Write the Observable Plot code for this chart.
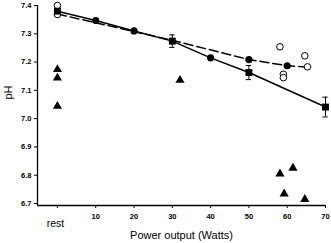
<!DOCTYPE html>
<html>
<head>
<meta charset="utf-8">
<script src="https://cdn.jsdelivr.net/npm/d3@7"></script>
<script src="https://cdn.jsdelivr.net/npm/@observablehq/plot@0.6"></script>
<style>
  html, body { margin: 0; padding: 0; background: #fff; }
  svg { font-family: "Liberation Sans", Arial, sans-serif; }
</style>
</head>
<body>
<div id="chart"></div>
<script>
// Data (x = power in Watts, "rest" = 0)
const xTicks = [0, 10, 20, 30, 40, 50, 60, 70];
const yTicks = [6.7, 6.8, 6.9, 7.0, 7.1, 7.2, 7.3, 7.4];

// solid line (connects filled circles / squares)
const solidX = [0, 10, 20, 30, 40, 50, 70];
const solidY = [7.38, 7.347, 7.31, 7.274, 7.215, 7.163, 7.041];

// dashed line
const dashX = [0, 30, 50, 60, 65.3];
const dashY = [7.37, 7.277, 7.209, 7.187, 7.183];

// filled circles
const circX = [10, 20, 40, 50, 60];
const circY = [7.347, 7.31, 7.215, 7.209, 7.187];

// filled squares with error bars
const sqX = [0, 30, 50, 70];
const sqY = [7.38, 7.274, 7.163, 7.041];
const sqErr = [0, 0.022, 0.025, 0.035];

// open circles
const openX = [0, 0, 58.1, 64.6, 65.3, 59, 59];
const openY = [7.40, 7.368, 7.254, 7.222, 7.183, 7.157, 7.145];

// filled triangles
const triX = [0, 0, 0, 32, 58.1, 61.5, 59.2, 64.6];
const triY = [7.174, 7.144, 7.044, 7.136, 6.805, 6.825, 6.734, 6.715];

const zip = (xs, ys) => xs.map((x, i) => ({x, y: ys[i]}));
const solid = zip(solidX, solidY);
const dashed = zip(dashX, dashY);
const circles = zip(circX, circY);
const squares = sqX.map((x, i) => ({x, y: sqY[i], e: sqErr[i]}));
const errs = squares.filter(d => d.e > 0);
const opens = zip(openX, openY);
const tris = zip(triX, triY);

const xMin = -5.2, yMin = 6.693;

const chart = Plot.plot({
  width: 331,
  height: 243,
  marginLeft: 37,
  marginRight: 6,
  marginTop: 5,
  marginBottom: 38,
  x: {domain: [xMin, 70]},
  y: {domain: [yMin, 7.4]},
  style: {fontFamily: "Liberation Sans, Arial, sans-serif", color: "#000", background: "#fff"},
  marks: [
    // axis lines
    Plot.ruleX([xMin], {y1: yMin, y2: 7.4, stroke: "#000", strokeWidth: 1.3}),
    Plot.ruleY([yMin], {x1: xMin, x2: 70, stroke: "#000", strokeWidth: 1.3}),
    Plot.axisY({ticks: yTicks, tickSize: 3, tickPadding: 3, tickFormat: d => d.toFixed(1),
      fontSize: 7.5, fontWeight: "bold", label: null}),
    Plot.axisX({ticks: xTicks, tickSize: 3, tickPadding: 5, tickFormat: d => d === 0 ? "" : d,
      fontSize: 7.5, fontWeight: "bold", label: null}),
    Plot.text(["rest"], {x: 0, frameAnchor: "bottom", dy: 18, dx: -2, fontSize: 10.5, lineAnchor: "middle"}),
    Plot.text(["Power output (Watts)"], {frameAnchor: "bottom", dy: 29.5, fontSize: 11, lineAnchor: "middle"}),
    Plot.text(["pH"], {frameAnchor: "left", dx: -29, dy: -6, rotate: -90, fontSize: 11, lineAnchor: "middle"}),
    // lines
    Plot.line(solid, {x: "x", y: "y", stroke: "#000", strokeWidth: 1.5}),
    Plot.line(dashed, {x: "x", y: "y", stroke: "#000", strokeWidth: 1.5, strokeDasharray: "9,4"}),
    // error bars
    Plot.ruleX(errs, {x: "x", y1: d => d.y - d.e, y2: d => d.y + d.e, stroke: "#000", strokeWidth: 1}),
    Plot.ruleY(errs, {y: d => d.y - d.e, x1: d => d.x - 0.7, x2: d => d.x + 0.7, stroke: "#000", strokeWidth: 1}),
    Plot.ruleY(errs, {y: d => d.y + d.e, x1: d => d.x - 0.7, x2: d => d.x + 0.7, stroke: "#000", strokeWidth: 1}),
    // markers
    Plot.dot(opens, {x: "x", y: "y", r: 3.3, fill: "#fff", stroke: "#000", strokeWidth: 1}),
    Plot.dot(circles, {x: "x", y: "y", r: 3.6, fill: "#000", stroke: "none"}),
    Plot.dot(squares, {x: "x", y: "y", r: 3.9, symbol: "square", fill: "#000", stroke: "none"}),
    Plot.dot(tris, {x: "x", y: "y", r: 3.4, symbol: "triangle", fill: "#000", stroke: "none"})
  ]
});
document.getElementById("chart").appendChild(chart);
</script>
</body>
</html>
